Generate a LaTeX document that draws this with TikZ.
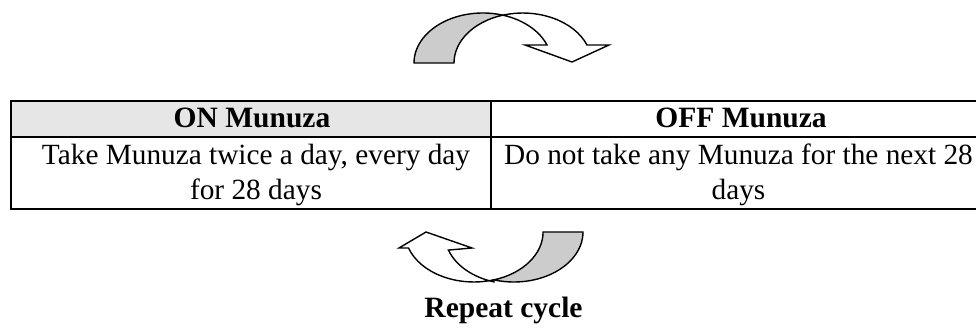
\documentclass[tikz,border=0pt]{standalone}
\usepackage{fontspec}
\setmainfont{Liberation Serif}
\usepackage[dvipsnames]{xcolor}
\usepackage{tikz}

\definecolor{headgray}{HTML}{E6E6E6}
\definecolor{bandgray}{HTML}{CCCCCC}

\begin{document}
\begin{tikzpicture}[x=1pt, y=1pt, line width=1.4pt,
    celltext/.style={font=\fontsize{29.3}{34.3}\selectfont, inner sep=0pt, anchor=base, align=center},
    headtext/.style={font=\fontsize{29.5}{34}\selectfont\bfseries, inner sep=0pt, anchor=base}]
    \useasboundingbox (0, 0) rectangle (976, 329);

    % draw header shading
    \fill[headgray] (11, 192) rectangle (491, 228);

    % draw table lines
    \draw[line width=2pt] (11, 228) -- (995, 228);
    \draw[line width=2pt] (11, 192) -- (995, 192);
    \draw[line width=2pt] (11, 120) -- (995, 120);
    \draw[line width=2pt] (11, 119) -- (11, 229);
    \draw[line width=2pt] (491, 119) -- (491, 229);

    % draw upper arrow
    \filldraw[fill=bandgray] (414, 266)
        arc[start angle=180, end angle=73.1, x radius=68.8, y radius=50]
        arc[start angle=106.9, end angle=180, x radius=68.8, y radius=50] -- cycle;
    \filldraw[fill=white] (502.8, 313.8)
        arc[start angle=106.9, end angle=21.1, x radius=68.8, y radius=50]
        -- (609, 284) -- (572, 267) -- (525, 284) -- (547, 284)
        arc[start angle=21.1, end angle=73.1, x radius=68.8, y radius=50] -- cycle;

    % draw lower arrow
    \filldraw[fill=bandgray] (583, 97)
        arc[start angle=0, end angle=-106.8, x radius=69.1, y radius=50]
        arc[start angle=-73.2, end angle=0, x radius=69.1, y radius=50] -- cycle;
    \filldraw[fill=white] (493.9, 47.1)
        arc[start angle=-106.8, end angle=-161.3, x radius=69.1, y radius=50]
        -- (472, 81) -- (426, 97) -- (399, 81) -- (408.5, 81)
        arc[start angle=-161.3, end angle=-73.2, x radius=69.1, y radius=50] -- cycle;

    % draw symbols
    \node[headtext] (onhead) at (252, 201.5) {ON Munuza};
    \node[headtext] (offhead) at (741, 201.5) {OFF Munuza};
    \node[celltext] (onbody) at (256, 129.7) {Take Munuza twice a day, every day\\for 28 days};
    \node[celltext] (offbody) at (738.5, 129.7) {Do not take any Munuza for the next 28\\days};
    \node[headtext] (repeat) at (503.5, 11.7) {Repeat cycle};
\end{tikzpicture}
\end{document}
